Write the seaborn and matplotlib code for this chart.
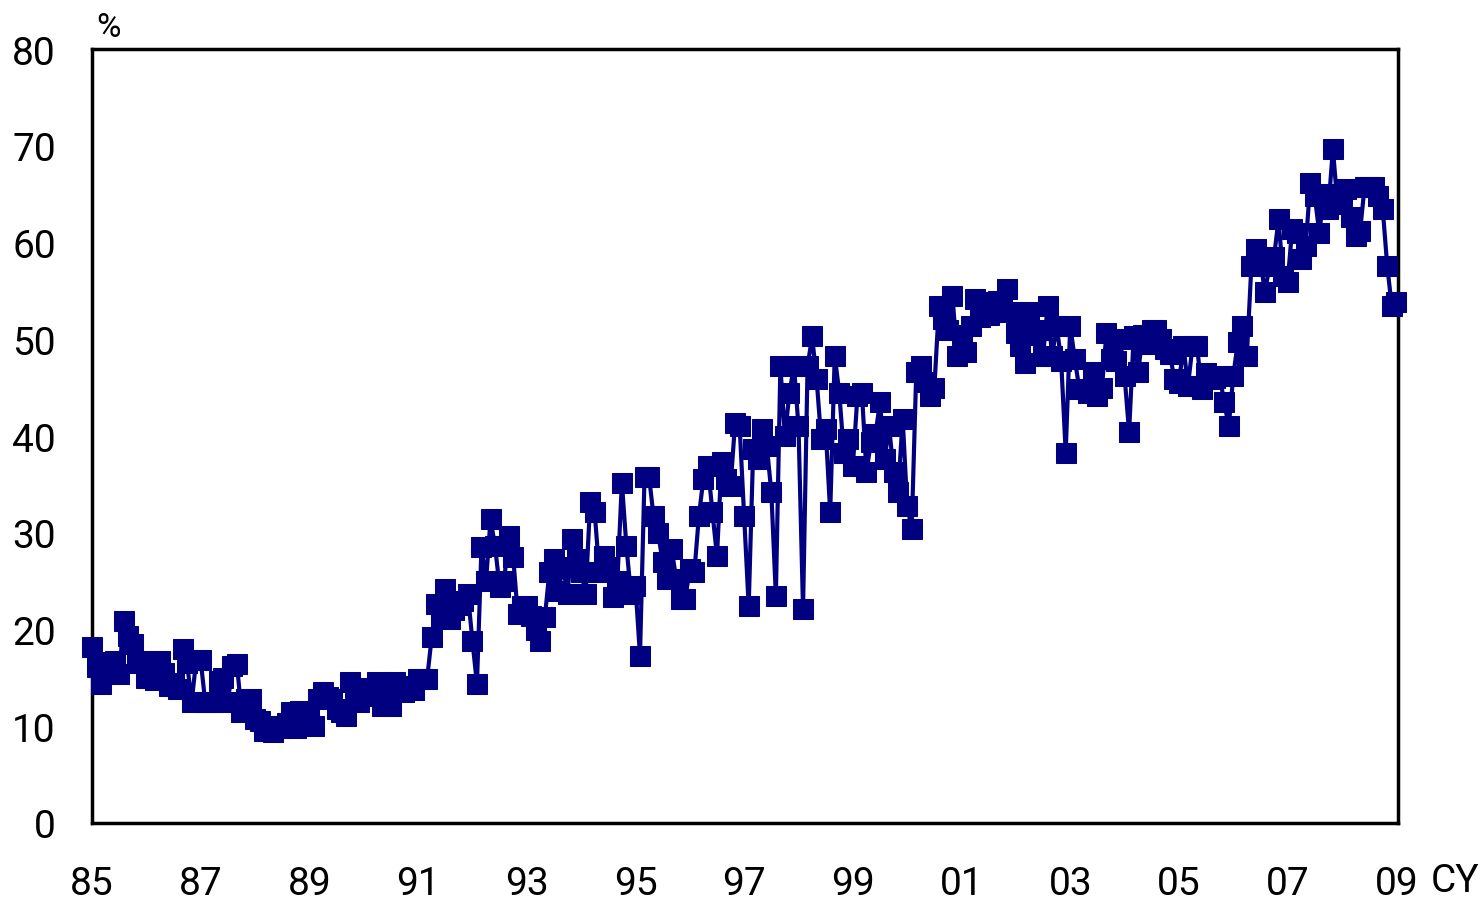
import numpy as np
import pandas as pd
import matplotlib
matplotlib.use("Agg")
import matplotlib.pyplot as plt
import seaborn as sns

# monthly values, Jan 1985 - Jan 2009 (%)
y1985 = [18.2, 16.1, 14.4, 16.5, 16.6, 16.7, 15.4, 20.9, 19.3, 18.5, 16.5, 16.7]
y1986 = [15.0, 16.6, 14.8, 16.7, 15.5, 14.2, 14.5, 13.9, 18.0, 16.5, 12.5, 16.8]
y1987 = [16.8, 12.5, 12.5, 12.5, 14.7, 15.0, 12.5, 16.2, 16.4, 11.5, 12.8, 12.8]
y1988 = [10.7, 10.5, 9.5, 9.5, 9.4, 10.0, 9.8, 10.3, 11.5, 9.8, 11.6, 10.3]
y1989 = [11.0, 10.0, 12.8, 13.5, 13.0, 12.8, 11.8, 11.5, 11.1, 14.6, 14.0, 12.5]
y1990 = [13.9, 13.1, 14.0, 14.6, 12.1, 13.5, 12.1, 14.6, 14.2, 13.5, 14.2, 13.8]
y1991 = [14.9, 14.9, 14.9, 19.2, 22.6, 21.4, 24.2, 21.1, 22.0, 22.5, 23.0, 23.7]
y1992 = [18.8, 14.4, 28.5, 25.0, 31.4, 28.6, 24.4, 25.0, 29.7, 27.5, 21.6, 22.4]
y1993 = [22.4, 21.4, 20.0, 18.8, 21.3, 26.0, 27.3, 24.0, 26.5, 23.7, 29.4, 27.3]
y1994 = [26.0, 23.7, 33.2, 32.1, 26.0, 27.6, 26.5, 23.4, 25.0, 35.2, 28.6, 23.7]
y1995 = [24.5, 17.3, 35.8, 35.8, 31.7, 30.0, 27.0, 25.2, 28.3, 25.2, 23.2, 23.2]
y1996 = [26.3, 25.9, 31.7, 35.6, 36.9, 32.1, 27.6, 37.3, 35.6, 34.8, 41.4, 41.0]
y1997 = [31.7, 22.4, 38.7, 37.6, 40.7, 39.0, 34.2, 23.5, 47.2, 40.0, 44.5, 47.2]
y1998 = [41.0, 22.1, 47.2, 50.3, 45.9, 39.7, 40.7, 32.1, 48.3, 44.5, 38.3, 39.7]
y1999 = [36.9, 44.1, 44.5, 36.3, 39.4, 40.2, 43.5, 37.6, 41.0, 36.3, 34.2, 41.8]
y2000 = [32.8, 30.4, 46.6, 47.2, 45.6, 44.1, 45.0, 53.4, 52.1, 51.0, 54.5, 48.3]
y2001 = [50.5, 48.7, 51.4, 54.2, 52.3, 53.9, 52.5, 52.8, 54.0, 53.3, 55.2, 52.8]
y2002 = [50.7, 49.3, 47.6, 52.8, 50.5, 51.0, 48.3, 53.4, 48.3, 51.4, 47.8, 38.3]
y2003 = [51.4, 48.0, 44.9, 44.9, 44.5, 46.6, 44.1, 45.0, 50.7, 48.0, 47.8, 50.0]
y2004 = [46.2, 40.4, 50.3, 46.6, 50.5, 49.5, 51.0, 51.0, 50.0, 49.0, 48.5, 45.9]
y2005 = [45.5, 49.3, 45.2, 49.3, 49.3, 44.9, 46.5, 45.9, 46.0, 46.2, 43.5, 41.0]
y2006 = [46.2, 49.7, 51.4, 48.3, 57.6, 59.3, 58.0, 54.9, 57.6, 58.5, 62.4, 56.5]
y2007 = [55.9, 61.4, 61.0, 58.3, 59.6, 66.2, 64.8, 61.0, 65.0, 63.5, 69.7, 64.0]
y2008 = [64.8, 65.5, 62.7, 60.7, 61.2, 65.8, 65.8, 65.8, 64.8, 63.5, 57.6, 53.4]
y2009 = [53.9]

tick_years = list(range(1985, 2010, 2))
tick_labels = ["85", "87", "89", "91", "93", "95", "97", "99", "01", "03", "05", "07", "09"]

values = (y1985 + y1986 + y1987 + y1988 + y1989 + y1990 + y1991 + y1992 + y1993
          + y1994 + y1995 + y1996 + y1997 + y1998 + y1999 + y2000 + y2001 + y2002
          + y2003 + y2004 + y2005 + y2006 + y2007 + y2008 + y2009)
df = pd.DataFrame({"t": 1985 + np.arange(len(values)) / 12, "pct": values})

sns.set_style("white")
plt.rcParams["font.family"] = ["Roboto", "DejaVu Sans"]
plt.rcParams["text.color"] = "black"
plt.rcParams["xtick.color"] = "black"
plt.rcParams["ytick.color"] = "black"

fig = plt.figure(figsize=(14.84, 9.04), dpi=100)
ax = fig.add_axes([0.062, 0.0885, 0.880, 0.856])

navy = "#000080"
sns.lineplot(data=df, x="t", y="pct", ax=ax, color=navy, linewidth=3,
             marker="s", markersize=15, markeredgecolor=navy, markerfacecolor=navy)
for ln in ax.lines:
    ln.set_clip_on(False)
    ln.set_zorder(4)

ax.set_xlim(1985, 2009.03)
ax.set_ylim(0, 80)
ax.set_yticks(range(0, 81, 10))
ax.set_xticks(tick_years)
ax.set_xticklabels(tick_labels)
ax.set_xlabel("")
ax.set_ylabel("")

ax.tick_params(axis="y", direction="in", length=12, width=1.5, color="#808080",
               labelcolor="black", labelsize=28, pad=26)
ax.tick_params(axis="x", direction="out", length=10, width=1.5, color="black",
               labelcolor="black", labelsize=28, pad=20)
for s in ax.spines.values():
    s.set_linewidth(2.5)
    s.set_color("black")

fig.text(0.065, 0.969, "%", fontsize=24, ha="left", va="center")
fig.text(0.964, 0.025, "CY", fontsize=28, ha="left", va="center")

plt.savefig("out.png", dpi=100)
